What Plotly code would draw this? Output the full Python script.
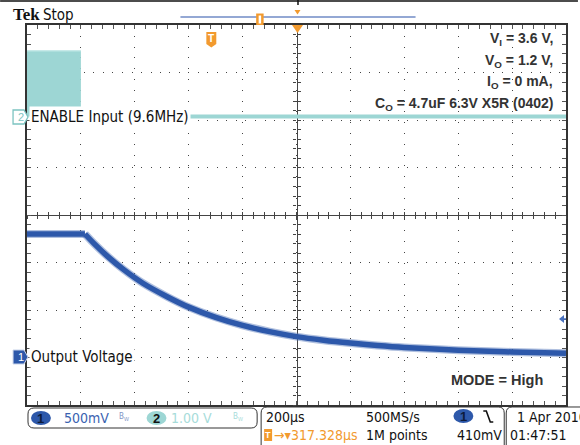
import plotly.graph_objects as go

# ---- data ----
# time in µs from left edge of graticule (200 µs/div, 10 div)
out_t = [0, 215, 250, 300, 360, 430, 520, 600, 700, 800, 900, 1000, 1100, 1200, 1300, 1400, 1600, 1800, 2000]
# Output voltage, channel 1, volts (500 mV/div)
out_v = [1.30, 1.30, 1.196, 1.062, 0.922, 0.782, 0.640, 0.530, 0.423, 0.338, 0.272, 0.220, 0.182, 0.152,
         0.127, 0.106, 0.077, 0.058, 0.045]

# ENABLE input, channel 2, volts (1 V/div): 9.6 MHz burst then low
burst_t = [0, 200]
burst_v = [1.38, 1.38]
idle_t = [200, 2000]
idle_v = [0.0, 0.0]

conditions = ["V<sub>I</sub> = 3.6 V,", "V<sub>O</sub> = 1.2 V,", "I<sub>O</sub> = 0 mA,",
              "C<sub>O</sub> = 4.7uF 6.3V X5R (0402)"]

W, H = 580, 445
L, R, T, B = 27, 12, 25, 40
PW, PH = W - L - R, H - T - B

BLUE = "#2D58AA"
TEAL = "#9DD6D4"
ORANGE = "#F29A2E"
INK = "#2a2a2a"
NARROW = "Liberation Sans Narrow, DejaVu Sans Condensed, Arial Narrow, sans-serif"
BOLD = "Liberation Sans, Arial, sans-serif"


def px(x):
    return (x - L) / PW


def py(y):
    return (H - B - y) / PH


def path(points, close=True):
    s = "M" + " L".join(f"{px(x):.5f},{py(y):.5f}" for x, y in points)
    return s + (" Z" if close else "")


def rbox(x0, y0, x1, y1, r):
    # rounded rectangle in pixel coords -> paper path
    p = lambda x, y: f"{px(x):.5f},{py(y):.5f}"
    return (f"M{p(x0 + r, y0)} L{p(x1 - r, y0)} Q{p(x1, y0)} {p(x1, y0 + r)} "
            f"L{p(x1, y1 - r)} Q{p(x1, y1)} {p(x1 - r, y1)} L{p(x0 + r, y1)} "
            f"Q{p(x0, y1)} {p(x0, y1 - r)} L{p(x0, y0 + r)} Q{p(x0, y0)} {p(x0 + r, y0)} Z")


fig = go.Figure()

# empty traces: keep the main graticule subplot first, then the centre crosshair
fig.add_trace(go.Scatter(x=[], y=[]))
fig.add_trace(go.Scatter(x=[], y=[], xaxis="x2", yaxis="y3"))

# channel 2 (ENABLE)
fig.add_trace(go.Scatter(x=burst_t, y=burst_v, yaxis="y2", mode="lines", fill="tozeroy",
                         fillcolor=TEAL, line=dict(color="#b5e2e0", width=1.5)))
fig.add_trace(go.Scatter(x=idle_t, y=idle_v, yaxis="y2", mode="lines",
                         line=dict(color=TEAL, width=4)))

# channel 1 (output voltage) on the top overlay so it covers the crosshair:
# flat part, then the decay as a smooth curve
for seg, shape in ((slice(0, 2), "linear"), (slice(1, None), "spline")):
    fig.add_trace(go.Scatter(x=out_t[seg], y=out_v[seg], mode="lines", xaxis="x3", yaxis="y4",
                             line=dict(color="rgba(80,115,185,0.45)", width=8, shape=shape)))
    fig.add_trace(go.Scatter(x=out_t[seg], y=out_v[seg], mode="lines", xaxis="x3", yaxis="y4",
                             line=dict(color=BLUE, width=5.5, shape=shape)))

grid = dict(showgrid=True, gridcolor="#444", gridwidth=1, showline=True, linecolor="#333",
            linewidth=1.5, mirror="ticks", ticks="inside", ticklen=4, tickcolor="#555",
            showticklabels=False, zeroline=False, fixedrange=True, layer="below traces")
cross = dict(showgrid=False, showline=True, linecolor="#444", linewidth=1.2, anchor="free",
             position=0.5, ticklen=3, tickcolor="#444", showticklabels=False,
             zeroline=False, layer="below traces", fixedrange=True)

fig.update_layout(
    width=W, height=H, margin=dict(l=L, r=R, t=T, b=B),
    paper_bgcolor="white", plot_bgcolor="white", showlegend=False, hovermode=False,
    xaxis=dict(range=[0, 2000], dtick=200, griddash="1px,9.8px",
               minor=dict(dtick=40, ticks="inside", ticklen=4, tickcolor="#555"), **grid),
    yaxis=dict(range=[-0.5, 3.5], dtick=0.5, griddash="1px,8.5px",
               minor=dict(dtick=0.1, ticks="inside", ticklen=4, tickcolor="#555"), **grid),
    yaxis2=dict(range=[-6.074, 1.926], overlaying="y", visible=False, fixedrange=True),
    xaxis2=dict(overlaying="x", range=[0, 2000], dtick=40, ticks="outside", **cross),
    xaxis3=dict(overlaying="x", range=[0, 2000], dtick=40, ticks="inside", **cross),
    yaxis3=dict(overlaying="y", range=[-0.5, 3.5], dtick=0.1, ticks="outside", **cross),
    yaxis4=dict(overlaying="y", range=[-0.5, 3.5], dtick=0.1, ticks="inside", **cross),
)

shapes = [
    # top frame line and marker tick
    dict(type="line", x0=px(0), x1=px(580), y0=py(1), y1=py(1), line=dict(color="#111", width=1.5)),
    dict(type="line", x0=px(299), x1=px(299), y0=py(0), y1=py(5), line=dict(color="#111", width=1.5)),
    # record view bar
    dict(type="line", x0=px(181), x1=px(417), y0=py(17), y1=py(17), line=dict(color="#94A8D4", width=2)),
    dict(type="rect", x0=px(257), x1=px(264.5), y0=py(25), y1=py(13.5), fillcolor=ORANGE, line=dict(width=0)),
    dict(type="rect", x0=px(259.5), x1=px(262), y0=py(23.5), y1=py(15.5), fillcolor="white", line=dict(width=0)),
    dict(type="path", path=path([(295.5, 10), (301.5, 10), (298.5, 14.5)]), fillcolor=ORANGE, line=dict(width=0)),
    # trigger position arrow on graticule top
    dict(type="path", path=path([(293, 25), (304, 25), (298.5, 33)]), fillcolor=ORANGE, line=dict(width=0)),
    # trigger T marker
    dict(type="path", path=path([(207, 32), (217, 32), (217, 44), (212, 47.5), (207, 44)]),
         fillcolor=ORANGE, line=dict(width=0)),
    # channel markers on the left
    dict(type="path", path=path([(13, 110), (24, 110), (28, 117), (24, 124), (13, 124)]),
         fillcolor="white", line=dict(color="#7cc4c1", width=1.3)),
    dict(type="path", path=path([(13, 350), (24, 350), (28, 357), (24, 364), (13, 364)]),
         fillcolor=BLUE, line=dict(color="#c9d4ea", width=1)),
    # ch1 trigger level arrow on the right
    dict(type="path", path=path([(561, 319), (566, 315), (566, 323)]), fillcolor="#4a72bf", line=dict(width=0)),
    dict(type="line", x0=px(564), x1=px(568), y0=py(319), y1=py(319), line=dict(color="#4a72bf", width=1.5)),
    # bottom info boxes
    dict(type="path", path=rbox(28, 408, 258, 428, 6), line=dict(color="#333", width=1)),
    dict(type="path", path=rbox(262, 407, 506, 452, 6), line=dict(color="#333", width=1)),
    dict(type="path", path=rbox(508, 407, 592, 452, 6), line=dict(color="#333", width=1)),
    dict(type="circle", x0=px(31), x1=px(51), y0=py(411), y1=py(425), fillcolor=BLUE, line=dict(width=0)),
    dict(type="circle", x0=px(147), x1=px(167), y0=py(411), y1=py(425), fillcolor=TEAL, line=dict(width=0)),
    dict(type="circle", x0=px(455), x1=px(475), y0=py(409), y1=py(423), fillcolor=BLUE, line=dict(width=0)),
    dict(type="path", path=path([(485, 411), (488, 411), (492, 422), (495, 422)], close=False),
         line=dict(color="#111", width=1.6)),
    dict(type="rect", x0=px(265), x1=px(273), y0=py(429), y1=py(441), fillcolor=ORANGE, line=dict(width=0)),
]
for s in shapes:
    s.setdefault("xref", "paper")
    s.setdefault("yref", "paper")
    s["layer"] = "above"
fig.update_layout(shapes=shapes)


def txt(x, y, text, size=13, color=INK, family=NARROW, xanchor="left", **kw):
    fig.add_annotation(x=px(x), y=py(y), xref="paper", yref="paper", text=text, showarrow=False,
                       xanchor=xanchor, yanchor="middle", font=dict(size=size, color=color, family=family),
                       **kw)


txt(11, 15, "<b>Tek</b>", size=17, color="#111", family="Liberation Serif, DejaVu Serif, serif")
txt(41, 15, "Stop", size=15, color="#111")
txt(212, 38.5, "<b>T</b>", size=10, color="white", family=BOLD, xanchor="center")

txt(20.5, 117, "2", size=11, color="#7cc4c1", family=BOLD, xanchor="center")
txt(20.5, 357, "1", size=11, color="white", family=BOLD, xanchor="center")
txt(29, 117, "ENABLE Input (9.6MHz)", size=15, color="#111", bgcolor="white", borderpad=1)
txt(29, 357, "Output Voltage", size=15, color="#111", bgcolor="white", borderpad=1)

for i, line in enumerate(conditions):
    txt(557, 39 + 21.5 * i, f"<b>{line}</b>", size=14, color="#333", family=BOLD, xanchor="right")
txt(547, 380, "<b>MODE = High</b>", size=14.5, color="#333", family=BOLD, xanchor="right")

txt(41, 418, "<b>1</b>", size=13, color="#0d1b3a", family=BOLD, xanchor="center")
txt(62, 418, "500mV", size=14, color="#3A62B0")
txt(117, 417, "B<sub>W</sub>", size=8, color="#7f95c6")
txt(157, 418, "<b>2</b>", size=13, color="#111", family=BOLD, xanchor="center")
txt(170, 418, "1.00 V", size=14, color="#a7dcda")
txt(232, 417, "B<sub>W</sub>", size=8, color="#a7dcda")

txt(265, 417, "200µs", size=14, color="#111")
txt(365, 417, "500MS/s", size=14, color="#111")
txt(465, 416, "<b>1</b>", size=13, color="#0d1b3a", family=BOLD, xanchor="center")
txt(269, 435, "<b>T</b>", size=9, color="white", family=BOLD, xanchor="center")
txt(273, 435, "→▾317.328µs", size=14, color=ORANGE)
txt(365, 435, "1M points", size=14, color="#111")
txt(457, 435, "410mV", size=14, color="#111")
txt(517, 417, "1 Apr 2010", size=14, color="#111")
txt(510, 435, "01:47:51", size=14, color="#111")

# the page body carries a default 8px margin; drop it so the figure fills the window
fig.write_html("out.html", config={"displayModeBar": False},
               post_script="document.body.style.margin='0px';")
